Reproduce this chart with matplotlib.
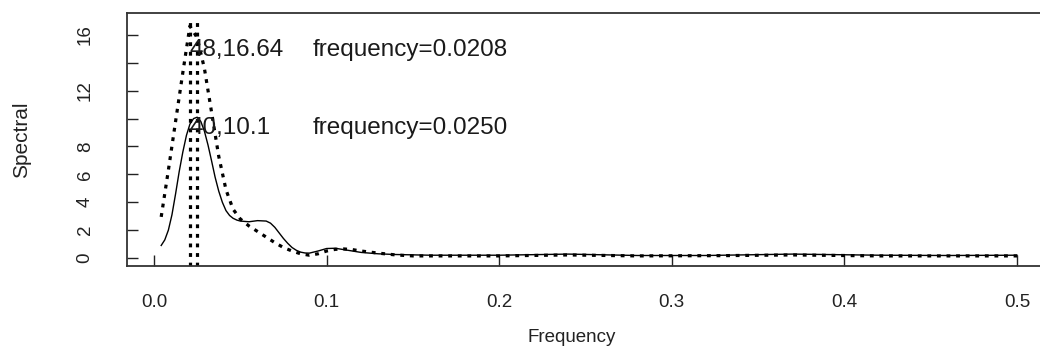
import matplotlib
matplotlib.use("Agg")
import matplotlib.pyplot as plt

# smoothed spectrum (solid)
freq_a = [0.00417, 0.00625, 0.00833, 0.0104, 0.0125, 0.0146, 0.0167, 0.0188, 0.0208, 0.0229,
          0.025, 0.0271, 0.0292, 0.0313, 0.0333, 0.0354, 0.0375, 0.0396, 0.0417, 0.0438,
          0.0458, 0.048, 0.05, 0.055, 0.06, 0.065, 0.0675, 0.07, 0.0725, 0.075,
          0.0775, 0.08, 0.0825, 0.085, 0.0875, 0.09, 0.095, 0.1, 0.105, 0.11,
          0.12, 0.13, 0.14, 0.16, 0.2, 0.24, 0.28, 0.32, 0.37, 0.42,
          0.46, 0.5]
spec_a = [0.9, 1.3, 2.0, 3.1, 4.6, 6.2, 7.6, 8.8, 9.6, 10.0,
          10.1, 9.8, 9.1, 8.1, 7.0, 5.8, 4.8, 4.0, 3.4, 3.05,
          2.85, 2.72, 2.65, 2.6, 2.68, 2.65, 2.5, 2.2, 1.8, 1.4,
          1.05, 0.75, 0.55, 0.42, 0.36, 0.35, 0.5, 0.68, 0.7, 0.6,
          0.4, 0.3, 0.25, 0.2, 0.2, 0.28, 0.18, 0.18, 0.28, 0.2,
          0.18, 0.2]

# second spectrum (dotted)
freq_b = [0.00417, 0.00833, 0.0125, 0.0167, 0.0208, 0.025, 0.0292, 0.0333, 0.0375, 0.0417,
          0.0458, 0.05, 0.055, 0.06, 0.065, 0.07, 0.075, 0.08, 0.085, 0.09,
          0.095, 0.1, 0.105, 0.11, 0.115, 0.12, 0.13, 0.14, 0.15, 0.2,
          0.24, 0.28, 0.33, 0.37, 0.42, 0.5]
spec_b = [2.95, 6.3, 9.8, 13.3, 16.64, 15.8, 13.6, 10.5, 7.3, 4.9,
          3.5, 2.8, 2.3, 1.9, 1.5, 1.1, 0.75, 0.5, 0.3, 0.2,
          0.3, 0.5, 0.62, 0.65, 0.6, 0.5, 0.35, 0.22, 0.15, 0.15,
          0.22, 0.15, 0.17, 0.22, 0.15, 0.15]

peak_freqs = [0.0208, 0.0250]
peak_labels = ["48,16.64", "40,10.1"]
peak_label_y = [14.9, 9.3]
freq_labels = ["frequency=0.0208", "frequency=0.0250"]

x_ticks = [0.0, 0.1, 0.2, 0.3, 0.4, 0.5]
y_ticks = [0, 2, 4, 6, 8, 10, 12, 14, 16]
y_ticklabels = ["0", "2", "4", "6", "8", "", "12", "", "16"]

plt.rcParams["font.family"] = ["Liberation Sans", "DejaVu Sans"]

W, H = 1040, 356
fig = plt.figure(figsize=(W / 100, H / 100), dpi=100)
left, right, top, bottom = 127, 1045, 13, 266
ax = fig.add_axes([left / W, (H - bottom) / H, (right - left) / W, (bottom - top) / H])

dot = (0, (1.2, 1.8))
ax.plot(freq_a, spec_a, color="black", lw=1.0)
ax.plot(freq_b, spec_b, color="black", lw=2.3, linestyle=dot)
for f in peak_freqs:
    ax.axvline(f, ymax=0.975, color="black", lw=2.3, linestyle=dot)

for f, lab, yy, flab in zip(peak_freqs, peak_labels, peak_label_y, freq_labels):
    ax.text(0.0205, yy, lab, fontsize=17.5, ha="left", va="center", color="#1a1a1a")
    ax.text(0.092, yy, flab, fontsize=17.5, ha="left", va="center", color="#1a1a1a")

x0 = (left - 154) / 1726
x1 = (right - 154) / 1726
ax.set_xlim(x0, x1)
ax.set_ylim((258 - bottom) / 13.94, (258 - top) / 13.94)

ax.set_xticks(x_ticks)
ax.set_xticklabels([f"{v:.1f}" for v in x_ticks])
ax.set_yticks(y_ticks)
ax.set_yticklabels(y_ticklabels, rotation=90, va="center")
ax.tick_params(axis="both", direction="in", length=8, width=1.0, labelsize=13.5, colors="#222222")
ax.tick_params(axis="x", pad=20)
ax.tick_params(axis="y", pad=24)

for s in ax.spines.values():
    s.set_linewidth(1.3)
    s.set_color("#333333")

ax.set_xlabel("Frequency", fontsize=13.5, color="#222222")
ax.set_ylabel("Spectral", fontsize=15, color="#222222")
ax.xaxis.set_label_coords((572 - left) / (right - left), -(338 - bottom) / (bottom - top))
ax.yaxis.set_label_coords(-(left - 22) / (right - left), 0.5)
ax.xaxis.label.set_va("center")
ax.yaxis.label.set_va("center")

fig.savefig("out.png", dpi=100)
